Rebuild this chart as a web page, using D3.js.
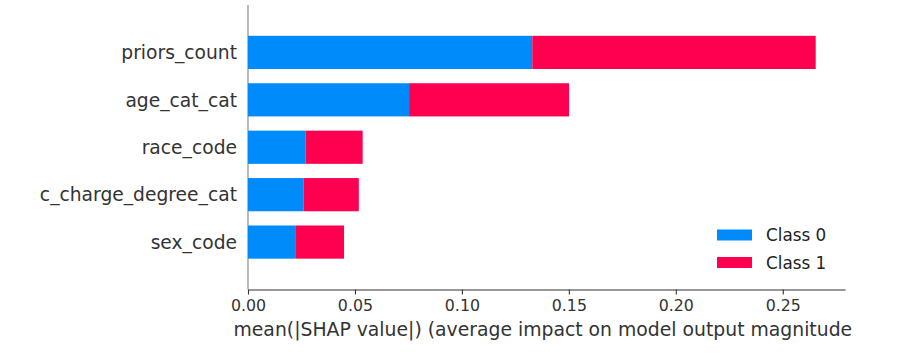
<!DOCTYPE html>
<html>
<head>
<meta charset="utf-8">
<script src="https://cdn.jsdelivr.net/npm/d3@7"></script>
<style>
  html, body { margin: 0; padding: 0; background: #fff; }
  svg { display: block; }
  text { font-family: "DejaVu Sans", sans-serif; }
</style>
</head>
<body>
<svg id="chart" width="906" height="356"></svg>
<script>
// ---- data ----
const features = ["priors_count", "age_cat_cat", "race_code", "c_charge_degree_cat", "sex_code"];
const class0 = [0.1329, 0.0753, 0.0270, 0.0259, 0.0224];
const class1 = [0.1325, 0.0748, 0.0266, 0.0259, 0.0225];
const seriesNames = ["Class 0", "Class 1"];
const seriesColors = ["#008bfb", "#ff0051"];
const xTicks = [0.00, 0.05, 0.10, 0.15, 0.20, 0.25];
const xLabel = "mean(|SHAP value|) (average impact on model output magnitude)";

// ---- layout ----
const W = 906, H = 356;
const mLeft = 248, mRight = 845, mTop = 5, mBottom = 289.5;
const svg = d3.select("#chart");

const x = d3.scaleLinear().domain([0, 0.2791]).range([mLeft, mRight]);
const n = features.length;
const y = d3.scaleLinear().domain([-1, n]).range([mBottom, mTop]);
const unit = Math.abs(y(1) - y(0));
const barH = unit * 0.7;

// left reference line
svg.append("line")
  .attr("x1", x(0)).attr("x2", x(0))
  .attr("y1", y(n)).attr("y2", y(-1))
  .attr("stroke", "#999999").attr("stroke-width", 1.3);

// stacked bars
const stacked = features.map((f, i) => ({
  f, pos: n - 1 - i,
  segs: [
    { x0: 0, x1: class0[i], c: 0 },
    { x0: class0[i], x1: class0[i] + class1[i], c: 1 }
  ]
}));
const g = svg.append("g");
stacked.forEach(d => {
  d.segs.forEach(s => {
    g.append("rect")
      .attr("x", x(s.x0))
      .attr("width", x(s.x1) - x(s.x0))
      .attr("y", y(d.pos) - barH / 2)
      .attr("height", barH)
      .attr("fill", seriesColors[s.c]);
  });
});

// y labels
svg.append("g").selectAll("text").data(stacked).join("text")
  .attr("x", x(0) - 11)
  .attr("y", d => y(d.pos))
  .attr("dy", "0.36em")
  .attr("text-anchor", "end")
  .attr("font-size", "18.7px")
  .attr("fill", "#333333")
  .text(d => d.f);

// x axis
const xAxis = d3.axisBottom(x)
  .tickValues(xTicks)
  .tickFormat(d3.format(".2f"))
  .tickSizeOuter(0)
  .tickSizeInner(5)
  .tickPadding(5);
const ax = svg.append("g")
  .attr("transform", `translate(0,${mBottom})`)
  .call(xAxis);
ax.select(".domain").attr("stroke", "#333333").attr("stroke-width", 1.1);
ax.selectAll(".tick line").attr("stroke", "#333333").attr("stroke-width", 1.1);
ax.selectAll(".tick text")
  .attr("font-family", "DejaVu Sans, sans-serif")
  .attr("font-size", "15.8px")
  .attr("fill", "#333333");

// x label (clipped at the figure edge like the reference)
svg.append("clipPath").attr("id", "lblclip")
  .append("rect").attr("x", 0).attr("y", 0).attr("width", 853).attr("height", H);
const lbl = svg.append("text")
  .attr("clip-path", "url(#lblclip)")
  .attr("x", (mLeft + mRight) / 2)
  .attr("y", 336)
  .attr("text-anchor", "middle")
  .attr("font-size", "18px")
  .attr("fill", "#333333")
  .text(xLabel);
const targetW = 2 * ((mLeft + mRight) / 2 - 233.3);
const curW = lbl.node().getComputedTextLength();
if (curW > 0) lbl.attr("font-size", (18 * targetW / curW).toFixed(2) + "px");

// legend
const leg = svg.append("g");
seriesNames.forEach((name, i) => {
  const cy = 235 + i * 27.5;
  leg.append("rect")
    .attr("x", 717).attr("y", cy - 5.5)
    .attr("width", 35).attr("height", 11)
    .attr("fill", seriesColors[i]);
  leg.append("text")
    .attr("x", 766).attr("y", cy)
    .attr("dy", "0.36em")
    .attr("font-size", "16.8px")
    .attr("fill", "#222222")
    .text(name);
});
</script>
</body>
</html>
